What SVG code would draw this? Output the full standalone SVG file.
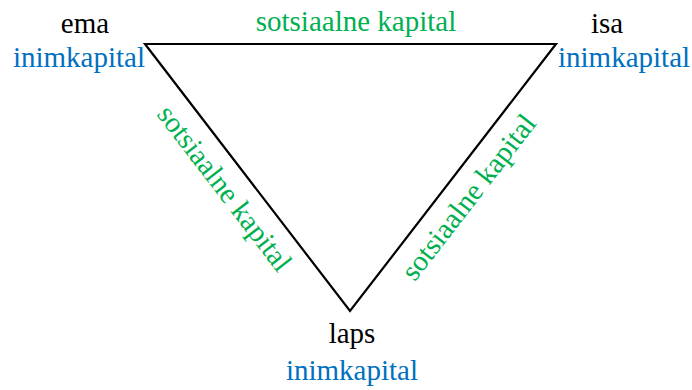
<svg xmlns="http://www.w3.org/2000/svg" width="692" height="390" viewBox="0 0 692 390">
<style>
.t{font-family:'Liberation Serif','Times New Roman',serif;font-size:29px}
.n{fill:#000}
.b{fill:#0070c0}
.g{fill:#00b050}
.e{fill:none;stroke:#000;stroke-width:2.2;stroke-linejoin:miter}
</style>
<rect width="692" height="390" fill="#fff"/>
<g id="connectors">
<path class="e" d="M145,44 L556,44 L350,311 Z"/>
<text class="t g" x="356" y="31" text-anchor="middle">sotsiaalne kapital</text>
<text class="t g" text-anchor="middle" transform="translate(217,194) rotate(52.5)">sotsiaalne kapital</text>
<text class="t g" text-anchor="middle" transform="translate(476,203) rotate(-52.3)">sotsiaalne kapital</text>
</g>
<g id="ema">
<text class="t n" x="85" y="33" text-anchor="middle">ema</text>
<text class="t b" x="145" y="67" text-anchor="end">inimkapital</text>
</g>
<g id="isa">
<text class="t n" x="607" y="33" text-anchor="middle">isa</text>
<text class="t b" x="558" y="67">inimkapital</text>
</g>
<g id="laps">
<text class="t n" x="352" y="343" text-anchor="middle">laps</text>
<text class="t b" x="352" y="380" text-anchor="middle">inimkapital</text>
</g>
</svg>
